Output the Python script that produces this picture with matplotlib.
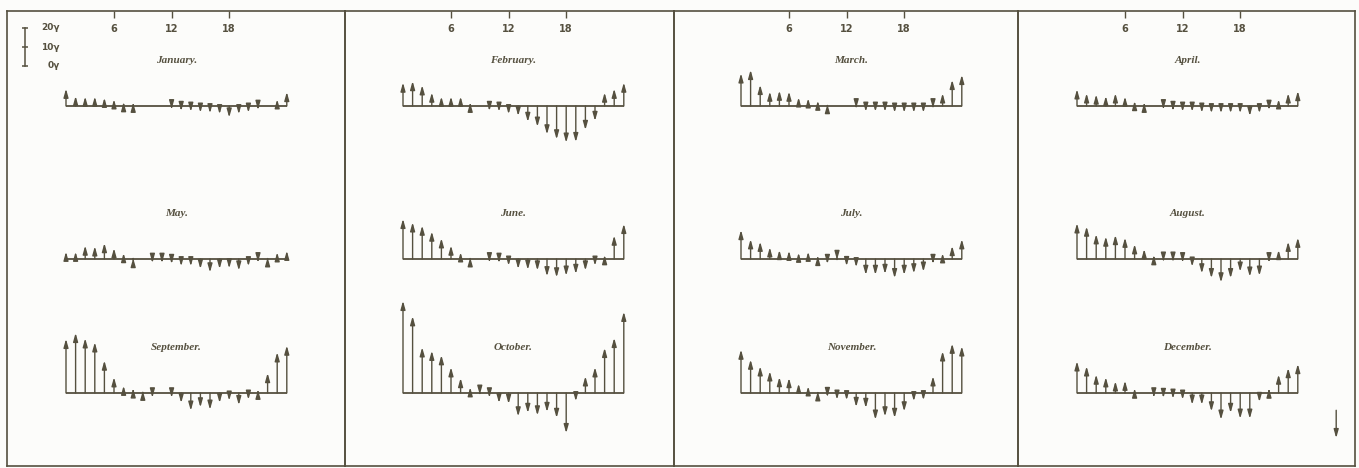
import numpy as np
import matplotlib.pyplot as plt

# hourly departures (in gamma) for hours 1..24
months = ['January', 'February', 'March', 'April', 'May', 'June',
          'July', 'August', 'September', 'October', 'November', 'December']
hours = np.arange(1, 25)

jan = [9.0, 5.2, 4.9, 4.9, 4.3, 3.5, 2.0, 1.7, 0, 0, 0, -1.7,
       -2.6, -3.0, -3.5, -3.8, -4.3, -6.0, -4.3, -3.5, -2.0, 0, 3.5, 7.3]
feb = [12.2, 13.0, 10.8, 7.0, 4.9, 4.9, 4.9, 1.7, 0, -2.6, -3.0, -4.3,
       -5.2, -8.3, -10.8, -14.8, -17.4, -19.1, -18.8, -12.5, -7.8, 7.0, 9.0, 12.2]
mar = [17.0, 18.8, 11.0, 7.5, 8.0, 7.5, 4.5, 4.0, 2.8, 1.0, 0, 0,
       -1.2, -3.0, -3.0, -3.0, -3.5, -3.5, -3.5, -3.5, -1.2, 6.6, 13.6, 16.2]
apr = [8.7, 6.6, 6.0, 5.2, 6.6, 4.9, 2.6, 1.7, 0, -1.7, -2.6, -3.0,
       -3.0, -3.5, -3.8, -3.8, -3.8, -3.8, -5.2, -3.8, -2.0, 3.5, 6.6, 7.8]
may = [3.8, 3.8, 7.0, 6.6, 8.3, 5.6, 3.1, 0.5, 0, -2.0, -2.0, -2.6,
       -3.8, -3.8, -5.2, -7.0, -5.2, -4.9, -6.0, -3.8, -1.7, 0.9, 3.5, 4.3]
jun = [20.9, 19.1, 17.4, 14.3, 10.8, 7.0, 3.5, 0.9, 0, -1.7, -2.0, -3.5,
       -5.2, -5.6, -6.0, -9.0, -9.6, -8.7, -7.8, -6.0, -3.5, 2.0, 12.2, 18.3]
jul = [15.1, 10.3, 9.0, 6.1, 4.7, 4.3, 3.3, 3.8, 1.6, -2.6, -0.5, -3.7,
       -4.3, -8.3, -8.3, -7.8, -10.0, -8.3, -7.5, -6.6, -2.6, 3.0, 6.8, 10.3]
aug = [18.6, 16.9, 12.9, 11.7, 12.5, 11.1, 7.7, 5.2, 2.0, -1.4, -1.4, -1.7,
       -4.0, -7.5, -10.0, -12.2, -10.0, -6.6, -9.2, -8.7, -1.7, 4.7, 9.0, 11.1]
sep = [28.2, 31.3, 28.5, 26.4, 16.9, 8.2, 3.8, 2.4, 1.2, -2.3, 0, -2.3,
       -5.2, -9.2, -7.5, -8.7, -5.2, -4.0, -6.3, -3.5, 1.7, 10.4, 21.2, 24.7]
oct_ = [48.0, 40.0, 23.8, 22.0, 19.7, 13.4, 7.8, 3.0, -0.9, -2.3, -5.2, -5.7,
        -12.2, -10.4, -11.7, -9.9, -13.0, -20.9, -4.3, 8.7, 13.4, 23.5, 28.7, 42.3]
nov = [22.6, 17.4, 13.9, 11.3, 8.3, 7.8, 4.9, 3.5, 0.9, -2.1, -3.5, -3.8,
       -7.3, -7.8, -13.9, -12.2, -13.0, -9.6, -4.3, -3.8, 8.7, 21.7, 25.7, 24.3]
dec = [16.5, 13.9, 9.6, 8.2, 6.1, 6.4, 2.3, 0, -2.3, -2.6, -3.0, -3.5,
       -6.1, -6.1, -9.6, -13.9, -10.4, -13.4, -13.4, -4.7, 2.3, 9.6, 13.0, 15.1]
data = [jan, feb, mar, apr, may, jun, jul, aug, sep, oct_, nov, dec]

tick_hours = [6, 12, 18]
tick_labels = ['6', '12', '18']
scale_ticks = [0, 10, 20]

ink = '#55503f'
paper = '#fcfcfa'

W, H = 1359, 468
fig = plt.figure(figsize=(W / 100, H / 100), dpi=100)
fig.patch.set_facecolor(paper)


def px_axes(x0, y0, w, h):
    # axes placed in pixel units, y measured from the top
    return fig.add_axes([x0 / W, 1 - (y0 + h) / H, w / W, h / H])


PX_H = 9.6    # pixels per hour
PX_G = 1.92   # pixels per gamma
panel_edges = [7, 345, 674, 1018, 1355]
hour1_px = [66, 403, 741, 1077]
row_base = [106, 259, 393]
top, bottom = 11, 466

arrow_kw = dict(arrowstyle='-|>,head_length=1.0,head_width=0.28',
                mutation_scale=5, color=ink, lw=1.0, shrinkA=0, shrinkB=0)

# panel frames with the hour ticks along the top
for c in range(4):
    x0, x1 = panel_edges[c], panel_edges[c + 1]
    ax = px_axes(x0, top, x1 - x0, bottom - top)
    ax.set_xlim(1 + (x0 - hour1_px[c]) / PX_H, 1 + (x1 - hour1_px[c]) / PX_H)
    ax.set_ylim(0, 1)
    ax.set_facecolor('none')
    for s in ax.spines.values():
        s.set_color(ink)
        s.set_linewidth(1.2)
    ax.set_yticks([])
    ax.set_xticks(tick_hours)
    ax.set_xticklabels(tick_labels, fontsize=7, fontweight='bold', color=ink)
    ax.tick_params(axis='x', top=True, bottom=False, labeltop=True, labelbottom=False,
                   direction='in', length=5, width=1, color=ink, pad=-16.5)

# monthly diagrams
YLO, YHI = -30, 55
for i, (name, vals) in enumerate(zip(months, data)):
    c, r = i % 4, i // 4
    ax = px_axes(hour1_px[c] - 0.5 * PX_H, row_base[r] - YHI * PX_G,
                 24 * PX_H, (YHI - YLO) * PX_G)
    ax.set_xlim(0.5, 24.5)
    ax.set_ylim(YLO, YHI)
    ax.axis('off')
    ax.plot([hours[0], hours[-1]], [0, 0], color=ink, lw=1.3, solid_capstyle='butt')
    for h, v in zip(hours, vals):
        if v == 0:
            continue
        ax.annotate('', xy=(h, v), xytext=(h, 0), arrowprops=arrow_kw)
    ax.annotate(name + '.', xy=(12.5, 0), xytext=(0, 32.5), textcoords='offset points',
                ha='center', va='center', fontsize=8, fontstyle='italic',
                fontweight='bold', family='Liberation Serif', color=ink)
    if name == 'December':
        # direction arrow in the corner of the last panel
        ax.annotate('', xy=(28, -23.5), xytext=(28, -9), annotation_clip=False,
                    arrowprops=arrow_kw)

# gamma scale bar
sax = px_axes(18, 28, 50, 38)
sax.set_xlim(0, 1)
sax.set_ylim(0, 20)
sax.axis('off')
sax.plot([0.14, 0.14], [0, 20], color=ink, lw=1.1, clip_on=False)
sax.hlines(scale_ticks, 0.08, 0.2, color=ink, lw=1.1, clip_on=False)
for t in scale_ticks:
    sax.text(0.84, t, f'{t}\u03b3', ha='right', va='center', fontsize=6.5,
             fontweight='bold', color=ink)

fig.savefig('out.png', dpi=100, facecolor=paper)
